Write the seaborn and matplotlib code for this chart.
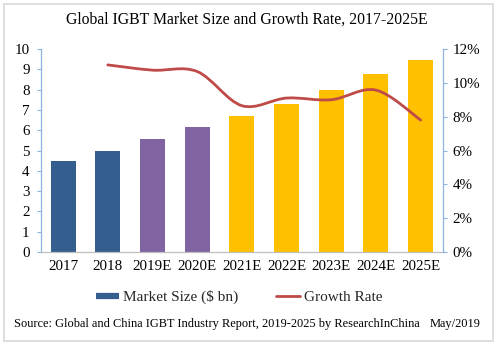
import numpy as np
import pandas as pd
import seaborn as sns
import matplotlib
matplotlib.use("Agg")
import matplotlib.pyplot as plt
from matplotlib.path import Path
from matplotlib.patches import PathPatch, Rectangle
from matplotlib.lines import Line2D
from matplotlib.ticker import FuncFormatter

years = ["2017", "2018", "2019E", "2020E", "2021E", "2022E", "2023E", "2024E", "2025E"]
market_size = [4.47, 4.99, 5.55, 6.16, 6.70, 7.29, 7.98, 8.77, 9.44]
growth_years = ["2018", "2019E", "2020E", "2021E", "2022E", "2023E", "2024E", "2025E"]
growth_rate = [0.1106, 0.1075, 0.1067, 0.0865, 0.091, 0.090, 0.0957, 0.078]
bar_colors = ["#335E8E", "#335E8E", "#8064A2", "#8064A2", "#FFC000", "#FFC000", "#FFC000", "#FFC000", "#FFC000"]

sns.set_theme(style="white")
plt.rcParams['font.family'] = ['Liberation Serif', 'DejaVu Serif']

W, H = 498, 346
fig = plt.figure(figsize=(W / 100, H / 100), dpi=100)
ax = fig.add_axes([40.7 / W, 1 - 252 / H, (443 - 40.7) / W, (252 - 49) / H])

df = pd.DataFrame({"year": years, "size": market_size})
sns.barplot(data=df, x="year", y="size", hue="year", palette=bar_colors,
            width=0.56, legend=False, ax=ax, saturation=1, edgecolor="none")
ax.set_xlim(-0.5, len(years) - 0.5)
ax.set_ylim(0, 10)
ax.set_yticks(range(0, 11))
ax.set_xlabel("")
ax.set_ylabel("")

spine_blue = "#8DB3E2"
for s in ["top", "right"]:
    ax.spines[s].set_visible(False)
ax.spines["left"].set_color(spine_blue)
ax.spines["left"].set_linewidth(0.9)
ax.spines["bottom"].set_color("#BFBFBF")
ax.spines["bottom"].set_linewidth(0.9)
ax.tick_params(axis="y", direction="out", length=3, width=0.8, color=spine_blue,
               pad=5, labelsize=10.8, left=True, labelcolor="black")
ax.tick_params(axis="x", length=0, pad=6, labelsize=10.8, labelcolor="black")

ax2 = ax.twinx()
ax2.set_ylim(0, 0.12)
ax2.set_yticks(np.arange(0, 0.1201, 0.02))
ax2.yaxis.set_major_formatter(FuncFormatter(lambda v, p: f"{round(v * 100)}%"))
for s in ["top", "left", "bottom"]:
    ax2.spines[s].set_visible(False)
ax2.spines["right"].set_color(spine_blue)
ax2.spines["right"].set_linewidth(0.9)
ax2.tick_params(axis="y", direction="out", length=3, width=0.8, color=spine_blue,
                pad=4, labelsize=10.8, right=True, labelcolor="black")
ax2.grid(False)
ax.grid(False)

# smoothed line (Excel-style) through the growth points
xs = np.array([years.index(y) for y in growth_years], dtype=float)
ys = np.array(growth_rate)
pts = np.column_stack([xs, ys])
verts = [tuple(pts[0])]
codes = [Path.MOVETO]
n = len(pts)
for i in range(n - 1):
    p0 = pts[i - 1] if i > 0 else pts[i]
    p1 = pts[i]
    p2 = pts[i + 1]
    p3 = pts[i + 2] if i + 2 < n else pts[i + 1]
    c1 = p1 + (p2 - p0) / 6.0
    c2 = p2 - (p3 - p1) / 6.0
    verts += [tuple(c1), tuple(c2), tuple(p2)]
    codes += [Path.CURVE4] * 3
line_color = "#BE4B48"
ax2.add_patch(PathPatch(Path(verts, codes), facecolor="none", edgecolor=line_color,
                        linewidth=2.0, capstyle="round", transform=ax2.transData))

fig.text(247 / W, 1 - 20 / H, "Global IGBT Market Size and Growth Rate, 2017-2025E",
         ha="center", va="center", fontsize=11.3, color="black")

handles = [Line2D([0], [0], color="#335E8E", lw=4.5, solid_capstyle="butt"),
           Line2D([0], [0], color=line_color, lw=2)]
fig.legend(handles, ["Market Size ($ bn)", "Growth Rate"], loc="center",
           bbox_to_anchor=(239 / W, 1 - 297 / H), ncol=2, frameon=False,
           fontsize=11, handlelength=1.55, handletextpad=0.25, columnspacing=2.5)

fig.text(14 / W, 1 - 324 / H,
         "Source: Global and China IGBT Industry Report, 2019-2025 by ResearchInChina",
         ha="left", va="center", fontsize=8.9, color="black")
fig.text(481 / W, 1 - 324 / H, "May/2019", ha="right", va="center", fontsize=8.9, color="black")

fig.patches.append(Rectangle((4 / W, 1 - 341 / H), (493 - 4) / W, (341 - 4) / H,
                             transform=fig.transFigure, facecolor="none",
                             edgecolor="#D9D9D9", linewidth=1.2))

fig.savefig("out.png", dpi=100)
